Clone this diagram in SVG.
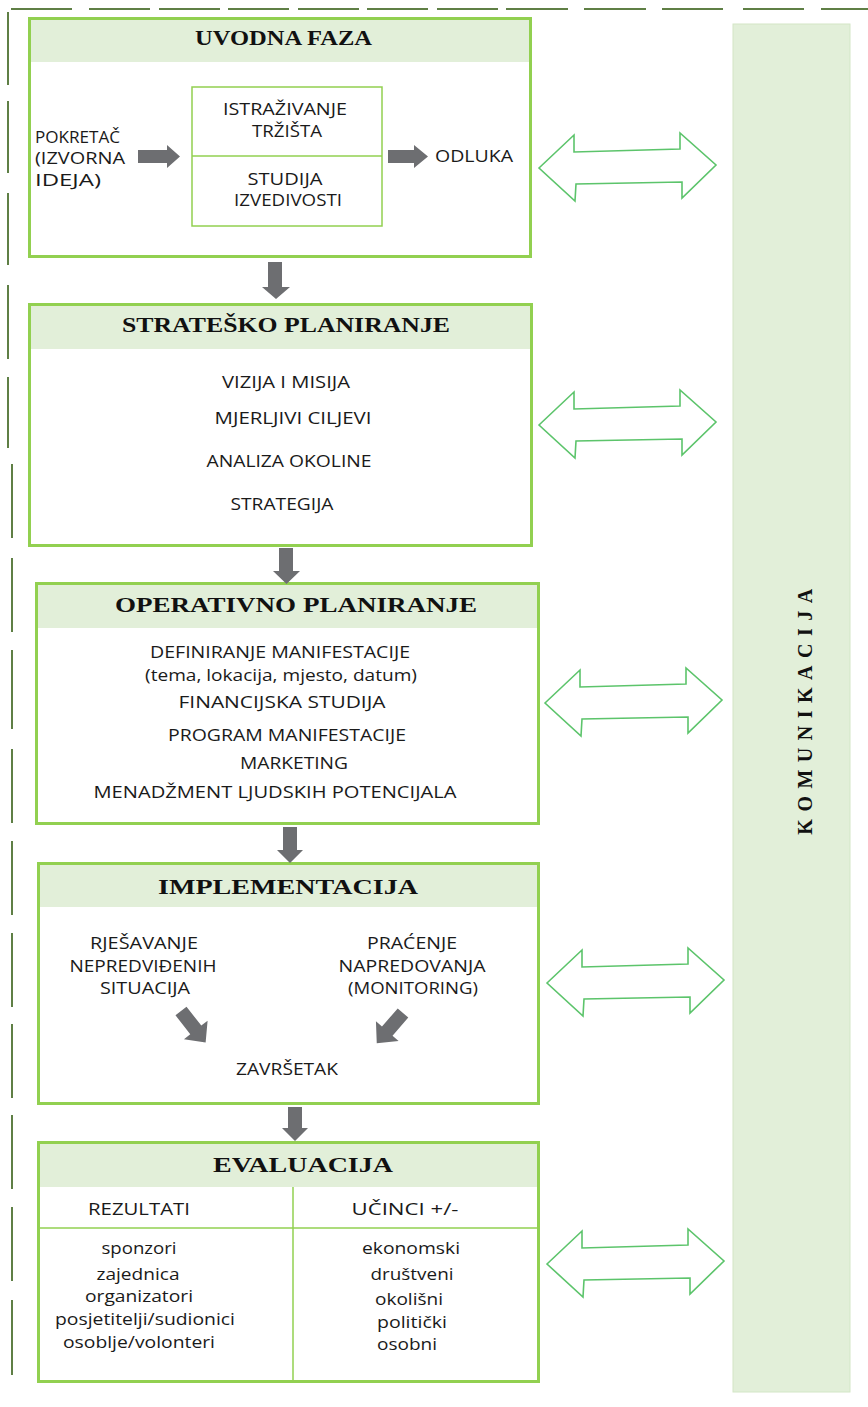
<svg xmlns="http://www.w3.org/2000/svg" width="868" height="1407" viewBox="0 0 868 1407">
<defs>
<style>
.box{fill:#ffffff;stroke:#92D050;stroke-width:3}
.hdr{fill:#E2EFD9}
.thin{fill:none;stroke:#92D050;stroke-width:1.5}
.ttl{font-family:"Liberation Serif","Times New Roman",serif;font-weight:bold;font-size:22px;fill:#111;text-anchor:middle}
.kom{font-family:"Liberation Serif","Times New Roman",serif;font-weight:bold;font-size:20px;fill:#111;text-anchor:middle;letter-spacing:7.5px}
.t{font-family:"Open Sans","Liberation Sans",sans-serif;font-size:17px;fill:#1a1a1a;text-anchor:middle}
.tl{font-family:"Open Sans","Liberation Sans",sans-serif;font-size:17px;fill:#1a1a1a}
.gray{fill:#6D6E71}
.dbl{fill:#ffffff;stroke:#5CC46B;stroke-width:1.6;stroke-linejoin:miter}
.dash{stroke:#5F7F45;stroke-width:2}
</style>
<polygon id="dblArrow" class="dbl" points="0,1 35,-32 35,-15 141,-18 141,-34 177,-2 143,31 143,15 37,17 36,34"/>
<polygon id="diag" class="gray" points="0,-7 24,-7 24,-15 40,0 24,15 24,7 0,7"/>
</defs>
<rect width="868" height="1407" fill="#ffffff"/>

<g id="frame">
<path class="dash" d="M11,9H72M89,9H150M159,9H220M228,9H289M298,9H359M367,9H428M437,9H498M506,9H568M584,9H646M662,9H723M743,9H804M821,9H868"/>
<path class="dash" d="M8,12V85M8,101V173M8,193V265M8,285V359M8,377V448M12,464V538M12,558V632M12,650V729M12,749V823M12,841V915M12,933V1007M12,1024V1098M12,1115V1189M12,1207V1281M12,1300V1375"/>
</g>

<g id="komunikacija">
<rect x="733" y="24" width="117" height="1368" fill="#E2EFD9" stroke="#D3E6C6" stroke-width="1"/>
<text class="kom" transform="translate(812,712) rotate(-90)" x="4" y="0">KOMUNIKACIJA</text>
</g>

<g id="uvodna-faza">
<rect class="box" x="29.5" y="18.5" width="501" height="238"/>
<rect class="hdr" x="31" y="20" width="498" height="42"/>
<text class="ttl" x="283.5" y="45" textLength="177" lengthAdjust="spacingAndGlyphs">UVODNA FAZA</text>
<text class="tl" x="35" y="143" textLength="85" lengthAdjust="spacingAndGlyphs">POKRETAČ</text>
<text class="tl" x="35" y="164" textLength="90" lengthAdjust="spacingAndGlyphs">(IZVORNA</text>
<text class="tl" x="35" y="186" textLength="66" lengthAdjust="spacingAndGlyphs">IDEJA)</text>
<rect class="thin" x="192" y="87" width="190" height="139"/>
<line class="thin" x1="192" y1="156" x2="382" y2="156"/>
<text class="t" x="285" y="115" textLength="124" lengthAdjust="spacingAndGlyphs">ISTRAŽIVANJE</text>
<text class="t" x="287" y="137" textLength="70" lengthAdjust="spacingAndGlyphs">TRŽIŠTA</text>
<text class="t" x="285" y="185" textLength="75" lengthAdjust="spacingAndGlyphs">STUDIJA</text>
<text class="t" x="288" y="206" textLength="108" lengthAdjust="spacingAndGlyphs">IZVEDIVOSTI</text>
<text class="tl" x="435" y="162" textLength="78" lengthAdjust="spacingAndGlyphs">ODLUKA</text>
</g>

<g id="stratesko-planiranje">
<rect class="box" x="29.5" y="304.5" width="502" height="241"/>
<rect class="hdr" x="31" y="306" width="499" height="43"/>
<text class="ttl" x="286" y="332" textLength="328" lengthAdjust="spacingAndGlyphs">STRATEŠKO PLANIRANJE</text>
<text class="t" x="286" y="388" textLength="128" lengthAdjust="spacingAndGlyphs">VIZIJA I MISIJA</text>
<text class="t" x="293" y="424" textLength="157" lengthAdjust="spacingAndGlyphs">MJERLJIVI CILJEVI</text>
<text class="t" x="289" y="467" textLength="165" lengthAdjust="spacingAndGlyphs">ANALIZA OKOLINE</text>
<text class="t" x="282" y="510" textLength="103" lengthAdjust="spacingAndGlyphs">STRATEGIJA</text>
</g>

<g id="operativno-planiranje">
<rect class="box" x="36.5" y="583.5" width="502" height="240"/>
<rect class="hdr" x="38" y="585" width="499" height="43"/>
<text class="ttl" x="296" y="612" textLength="362" lengthAdjust="spacingAndGlyphs">OPERATIVNO PLANIRANJE</text>
<text class="t" x="280" y="658" textLength="260" lengthAdjust="spacingAndGlyphs">DEFINIRANJE MANIFESTACIJE</text>
<text class="t" x="281" y="681" textLength="272" lengthAdjust="spacingAndGlyphs">(tema, lokacija, mjesto, datum)</text>
<text class="t" x="282" y="708" textLength="207" lengthAdjust="spacingAndGlyphs">FINANCIJSKA STUDIJA</text>
<text class="t" x="287" y="741" textLength="238" lengthAdjust="spacingAndGlyphs">PROGRAM MANIFESTACIJE</text>
<text class="t" x="294" y="769" textLength="108" lengthAdjust="spacingAndGlyphs">MARKETING</text>
<text class="t" x="275" y="798" textLength="363" lengthAdjust="spacingAndGlyphs">MENADŽMENT LJUDSKIH POTENCIJALA</text>
</g>

<g id="implementacija">
<rect class="box" x="38.5" y="863.5" width="500" height="240"/>
<rect class="hdr" x="40" y="865" width="497" height="42"/>
<text class="ttl" x="288" y="894" textLength="260" lengthAdjust="spacingAndGlyphs">IMPLEMENTACIJA</text>
<text class="t" x="144" y="949" textLength="108" lengthAdjust="spacingAndGlyphs">RJEŠAVANJE</text>
<text class="t" x="143" y="972" textLength="147" lengthAdjust="spacingAndGlyphs">NEPREDVIĐENIH</text>
<text class="t" x="145" y="994" textLength="90" lengthAdjust="spacingAndGlyphs">SITUACIJA</text>
<text class="t" x="412" y="949" textLength="90" lengthAdjust="spacingAndGlyphs">PRAĆENJE</text>
<text class="t" x="412" y="972" textLength="147" lengthAdjust="spacingAndGlyphs">NAPREDOVANJA</text>
<text class="t" x="413" y="994" textLength="130" lengthAdjust="spacingAndGlyphs">(MONITORING)</text>
<text class="t" x="287" y="1075" textLength="102" lengthAdjust="spacingAndGlyphs">ZAVRŠETAK</text>
</g>

<g id="evaluacija">
<rect class="box" x="38.5" y="1142.5" width="500" height="239"/>
<rect class="hdr" x="40" y="1144" width="497" height="43"/>
<text class="ttl" x="303" y="1172" textLength="180" lengthAdjust="spacingAndGlyphs">EVALUACIJA</text>
<line class="thin" x1="293" y1="1187" x2="293" y2="1381"/>
<line class="thin" x1="40" y1="1228" x2="537" y2="1228"/>
<text class="t" x="139" y="1215" textLength="102" lengthAdjust="spacingAndGlyphs">REZULTATI</text>
<text class="t" x="405" y="1215" textLength="107" lengthAdjust="spacingAndGlyphs">UČINCI +/-</text>
<text class="t" x="139" y="1254" textLength="75" lengthAdjust="spacingAndGlyphs">sponzori</text>
<text class="t" x="138" y="1280" textLength="83" lengthAdjust="spacingAndGlyphs">zajednica</text>
<text class="t" x="139" y="1302" textLength="108" lengthAdjust="spacingAndGlyphs">organizatori</text>
<text class="t" x="145" y="1325" textLength="180" lengthAdjust="spacingAndGlyphs">posjetitelji/sudionici</text>
<text class="t" x="139" y="1348" textLength="152" lengthAdjust="spacingAndGlyphs">osoblje/volonteri</text>
<text class="t" x="411" y="1254" textLength="98" lengthAdjust="spacingAndGlyphs">ekonomski</text>
<text class="t" x="412" y="1280" textLength="83" lengthAdjust="spacingAndGlyphs">društveni</text>
<text class="t" x="409" y="1305" textLength="68" lengthAdjust="spacingAndGlyphs">okolišni</text>
<text class="t" x="412" y="1328" textLength="70" lengthAdjust="spacingAndGlyphs">politički</text>
<text class="t" x="407" y="1350" textLength="60" lengthAdjust="spacingAndGlyphs">osobni</text>
</g>

<g id="connectors">
<polygon class="gray" points="138,150 167,150 167,145 180,156.5 167,168 167,163 138,163"/>
<polygon class="gray" points="388,150 414,150 414,145 428,156.5 414,168 414,163 388,163"/>
<polygon class="gray" points="268,262 282,262 282,287 290,287 276,299 262,287 268,287"/>
<polygon class="gray" points="279,548 293,548 293,571 300,571 286.5,584 273,571 279,571"/>
<polygon class="gray" points="283,827 297,827 297,850 303,850 290,863 277,850 283,850"/>
<polygon class="gray" points="288,1107 302,1107 302,1128 308,1128 295,1141 282,1128 288,1128"/>
<use href="#diag" transform="translate(181,1011) rotate(52)"/>
<use href="#diag" transform="translate(403,1013) rotate(131)"/>
<use href="#dblArrow" transform="translate(539,167)"/>
<use href="#dblArrow" transform="translate(539,424)"/>
<use href="#dblArrow" transform="translate(545,702)"/>
<use href="#dblArrow" transform="translate(547,982)"/>
<use href="#dblArrow" transform="translate(547,1263)"/>
</g>
</svg>
